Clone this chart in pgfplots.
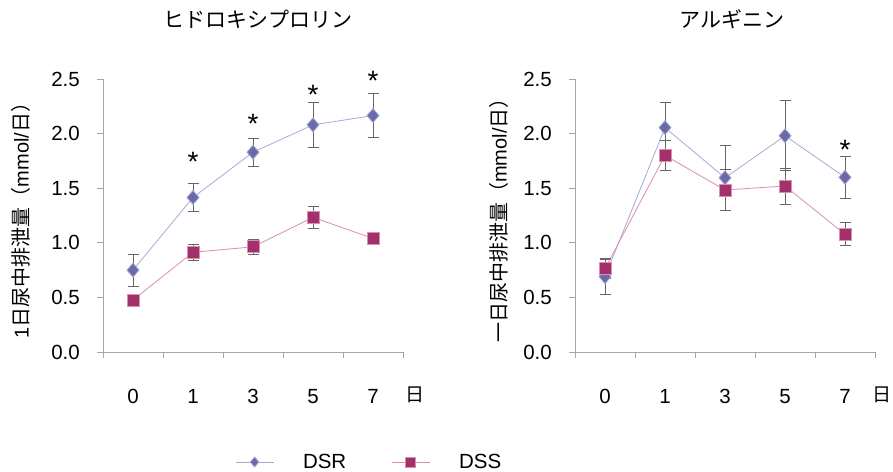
\documentclass[border=0pt]{standalone}
\usepackage{fontspec}
\setmainfont{Liberation Sans}
\newfontfamily\jp{Noto Sans CJK JP}
\usepackage{pgfplots}
\pgfplotsset{compat=1.18}
\usepackage{pgfplotstable}

\definecolor{dsrm}{HTML}{6A6AAA}
\definecolor{dsrl}{HTML}{A9A9D4}
\definecolor{dssm}{HTML}{A3306A}
\definecolor{dssl}{HTML}{D98FB0}
\definecolor{errc}{HTML}{666666}
\definecolor{axc}{HTML}{A6A6A6}

\newcommand\bigf{\fontsize{20.5}{24}\selectfont}

\pgfplotstableread{
x y e
0 0.75 0.145
1 1.415 0.13
2 1.83 0.13
3 2.08 0.205
4 2.165 0.20
}\hydsr
\pgfplotstableread{
x y e
0 0.476 0.02
1 0.913 0.07
2 0.963 0.07
3 1.233 0.10
4 1.04 0.02
}\hydss
\pgfplotstableread{
x y e
0 0.69 0.16
1 2.055 0.235
2 1.595 0.30
3 1.98 0.32
4 1.60 0.19
}\argdsr
\pgfplotstableread{
x y e
0 0.763 0.09
1 1.80 0.135
2 1.484 0.19
3 1.52 0.165
4 1.078 0.105
}\argdss

\pgfplotsset{
  myax/.style={
    width=300pt, height=273pt, scale only axis,
    xmin=-0.5, xmax=4.5, ymin=0, ymax=2.5,
    axis x line=bottom, axis y line=left,
    axis line style={-, axc, line width=0.9pt},
    tick style={axc, line width=0.9pt},
    tick align=outside, major tick length=6pt,
    xtick={-0.5,0.5,1.5,2.5,3.5,4.5}, x tick label as interval,
    xticklabels={0,1,3,5,7},
    ytick={0,0.5,1,1.5,2,2.5},
    yticklabel style={/pgf/number format/fixed, /pgf/number format/fixed zerofill, /pgf/number format/precision=1},
    /pgf/number format/assume math mode=true,
    tick label style={font=\bigf},
    xticklabel style={anchor=north, inner sep=0pt, yshift=-31pt},
    yticklabel style={anchor=east, inner sep=0pt, xshift=-17pt},
    clip=false,
    title style={anchor=center, font={\fontsize{21}{25}\selectfont\jp}},
    ylabel style={anchor=center, font={\fontsize{20}{24}\selectfont}},
    legend image code/.code={\draw[mark repeat=2, mark phase=2, ##1, mark size=5pt] plot coordinates {(0pt,0pt) (19pt,0pt) (38pt,0pt)};},
  },
  dsr/.style={color=dsrl, line width=0.8pt, mark=diamond*, mark size=7pt,
    mark options={fill=dsrm, draw=none, xscale=1.15, solid},
    error bars/.cd, y dir=both, y explicit,
    error bar style={errc, line width=0.8pt},
    error mark options={errc, line width=0.8pt, mark size=5.5pt, rotate=90}},
  dss/.style={color=dssl, line width=0.8pt, mark=square*, mark size=6pt,
    mark options={fill=dssm, draw=none, solid},
    error bars/.cd, y dir=both, y explicit,
    error bar style={errc, line width=0.8pt},
    error mark options={errc, line width=0.8pt, mark size=5.5pt, rotate=90}},
}

\begin{document}
\begin{tikzpicture}
\path[use as bounding box] (0,0) rectangle (893pt,-471pt);

\begin{axis}[myax, at={(103pt,-352pt)}, anchor=south west,
  title={ヒドロキシプロリン},
  title style={at={(axis description cs:0.517,1.198)}},
  ylabel={1{\jp 日尿中排泄量（}mmol/{\jp 日）}},
  ylabel style={at={(axis description cs:-0.273,0.5)}},
  legend columns=2,
  legend style={at={(axis description cs:0.44,-0.403)}, anchor=west, draw=none, fill=none,
    inner sep=0pt, font=\bigf,
    /tikz/every odd column/.append style={column sep=27pt},
    /tikz/every even column/.append style={column sep=43pt}},
]
\addplot[dsr] table[x=x, y=y, y error=e] {\hydsr};
\addlegendentry{DSR}
\addplot[dss] table[x=x, y=y, y error=e] {\hydss};
\addlegendentry{DSS}
\node[font=\fontsize{28}{32}\selectfont, anchor=base, yshift=-16pt] at (axis cs:1,1.80) {*};
\node[font=\fontsize{28}{32}\selectfont, anchor=base, yshift=-16pt] at (axis cs:2,2.145) {*};
\node[font=\fontsize{28}{32}\selectfont, anchor=base, yshift=-16pt] at (axis cs:3,2.415) {*};
\node[font=\fontsize{28}{32}\selectfont, anchor=base, yshift=-16pt] at (axis cs:4,2.537) {*};
\node[font={\fontsize{19}{23}\selectfont\jp}] at (axis description cs:1.04,-0.1575) {日};
\end{axis}

\begin{axis}[myax, at={(575pt,-352pt)}, anchor=south west,
  title={アルギニン},
  title style={at={(axis description cs:0.523,1.198)}},
  ylabel={{\jp 一日尿中排泄量（}mmol/{\jp 日）}},
  ylabel style={at={(axis description cs:-0.253,0.5)}},
]
\addplot[dsr] table[x=x, y=y, y error=e] {\argdsr};
\addplot[dss] table[x=x, y=y, y error=e] {\argdss};
\node[font=\fontsize{28}{32}\selectfont, anchor=base, yshift=-16pt] at (axis cs:4,1.905) {*};
\node[font={\fontsize{19}{23}\selectfont\jp}] at (axis description cs:1.023,-0.1575) {日};
\end{axis}
\end{tikzpicture}
\end{document}
